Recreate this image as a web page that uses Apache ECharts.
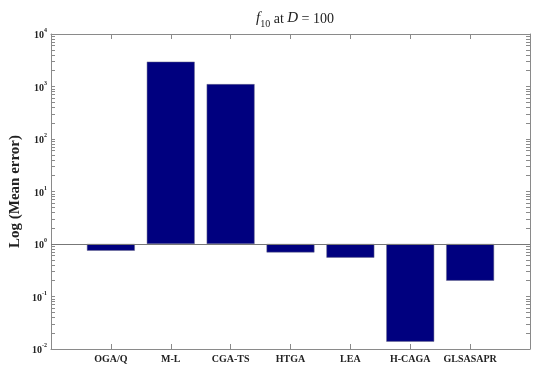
<!DOCTYPE html>
<html>
<head>
<meta charset="utf-8">
<script src="https://cdn.jsdelivr.net/npm/echarts@6/dist/echarts.min.js"></script>
<style>
  html, body { margin: 0; padding: 0; background: #fff; }
  #chart { width: 537px; height: 372px; }
</style>
</head>
<body>
<div id="chart"></div>
<script>
// Algorithms compared on f10 with D = 100
const categories = ['OGA/Q', 'M-L', 'CGA-TS', 'HTGA', 'LEA', 'H-CAGA', 'GLSASAPR'];
// Mean error per algorithm
const meanError = [0.745, 2970, 1110, 0.69, 0.55, 0.0138, 0.2];
// Log-axis range (powers of ten)
const yMin = 0.01;
const yMax = 10000;

// Tick positions: every power of ten plus 2..9 x 10^k in between
const logTicks = [];
for (let e = Math.log10(yMin); e <= Math.log10(yMax); e++) {
  logTicks.push(Math.pow(10, e));
  if (e < Math.log10(yMax)) {
    for (let m = 2; m <= 9; m++) logTicks.push(+(m * Math.pow(10, e)).toPrecision(6));
  }
}

const serif = 'Liberation Serif';
const axisColor = '#8a8a8a';
const textColor = '#222';
const barColor = '#00007f';

const chart = echarts.init(document.getElementById('chart'));

const logAxisBase = {
  type: 'log',
  logBase: 10,
  min: yMin,
  max: yMax,
  interval: 1,
  splitLine: { show: false },
  axisLine: { show: true, onZero: false, lineStyle: { color: axisColor, width: 1 } },
  axisTick: { show: true, inside: true, length: 4, customValues: logTicks, lineStyle: { color: axisColor } }
};

const xAxisBase = {
  type: 'value',
  min: 0,
  max: categories.length + 1,
  interval: 1,
  splitLine: { show: false },
  axisLine: { show: true, onZero: false, lineStyle: { color: axisColor } },
  axisTick: { show: true, inside: true, length: 5, lineStyle: { color: axisColor } }
};

chart.setOption({
  animation: false,
  title: {
    text: '{i|f}{sub|10}{n| at }{i|D}{n| = 100}',
    left: 290,
    textAlign: 'center',
    top: 3,
    textStyle: {
      fontWeight: 'normal',
      rich: {
        i: { fontFamily: serif, fontStyle: 'italic', fontWeight: 'normal', fontSize: 15, color: textColor, lineHeight: 18, verticalAlign: 'bottom' },
        sub: { fontFamily: serif, fontWeight: 'normal', fontSize: 10, color: textColor, lineHeight: 18, verticalAlign: 'bottom', padding: [0, 0, -3, 0] },
        n: { fontFamily: serif, fontWeight: 'normal', fontSize: 14, color: textColor, lineHeight: 18, verticalAlign: 'bottom' }
      }
    }
  },
  grid: { left: 50, right: 7, top: 34, bottom: 23, containLabel: false },
  xAxis: [
    Object.assign({}, xAxisBase, {
      position: 'bottom',
      axisLabel: {
        margin: 5,
        fontFamily: serif,
        fontWeight: 'bold',
        fontSize: 10,
        color: textColor,
        formatter: v => categories[v - 1] || ''
      }
    }),
    Object.assign({}, xAxisBase, {
      position: 'top',
      axisLabel: { show: false }
    })
  ],
  yAxis: [
    Object.assign({}, logAxisBase, {
      position: 'left',
      name: 'Log (Mean error)',
      nameLocation: 'middle',
      nameMoveOverlap: false,
      nameGap: 28,
      nameTextStyle: { fontFamily: serif, fontWeight: 'bold', fontSize: 15, color: textColor },
      axisLabel: {
        margin: 4,
        formatter: v => '{b|10}{s|' + Math.round(Math.log10(v)) + '}',
        rich: {
          b: { fontFamily: serif, fontWeight: 'bold', fontSize: 10, color: textColor, lineHeight: 13, verticalAlign: 'bottom' },
          s: { fontFamily: serif, fontWeight: 'bold', fontSize: 6, color: textColor, lineHeight: 13, verticalAlign: 'top' }
        }
      }
    }),
    Object.assign({}, logAxisBase, {
      position: 'right',
      axisLabel: { show: false }
    })
  ],
  series: [
    {
      type: 'bar',
      xAxisIndex: 0,
      yAxisIndex: 0,
      barWidth: '80%',
      data: meanError.map((v, i) => [i + 1, v]),
      itemStyle: { color: barColor, borderColor: '#6a6a8a', borderWidth: 0.5 },
      markLine: {
        silent: true,
        symbol: 'none',
        label: { show: false },
        lineStyle: { color: '#777', width: 1, type: 'solid' },
        data: [{ yAxis: 1 }]
      }
    }
  ]
});
</script>
</body>
</html>
